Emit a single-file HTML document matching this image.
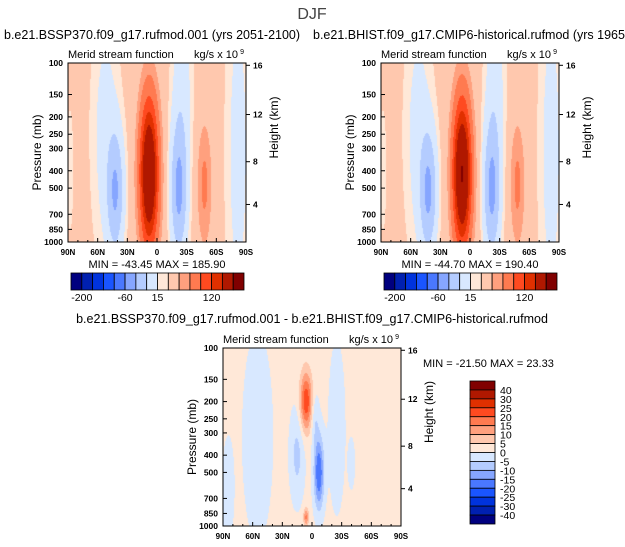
<!DOCTYPE html>
<html><head><meta charset="utf-8"><style>
body{margin:0;background:#fff;}
#root{position:relative;width:625px;height:547px;overflow:hidden;font-family:"Liberation Sans",sans-serif;}
svg text{font-family:"Liberation Sans",sans-serif;}
</style></head><body>
<div id="root">
<canvas id="c1" width="178" height="179" style="position:absolute;left:68px;top:63px"></canvas>
<canvas id="c2" width="178" height="179" style="position:absolute;left:381px;top:63px"></canvas>
<canvas id="c3" width="178" height="178" style="position:absolute;left:223px;top:348px"></canvas>
<svg id="ov" width="625" height="547" style="position:absolute;left:0;top:0"></svg>
</div>
<script>
const colors=["#00007f","#0020b0","#0033dd","#1a55ff","#4a78ff","#86a6ff","#b4ccff","#d8e8ff","#ffe8d8","#ffc8ae","#ffa07e","#ff7a50","#ff4a20","#e03000","#b01800","#800000"];
const levels1=[-200,-150,-100,-80,-60,-40,-20,-5,0,15,30,60,90,120,190];
const levels3=[-40,-30,-25,-20,-15,-10,-5,0,5,10,15,20,25,30,40];
const cbLabels1=["-200","-60","15","120"];
const cbLabelIdx1=[1,5,8,13];
const cbLabels3=["40","30","25","20","15","10","5","0","-5","-10","-15","-20","-25","-30","-40"];
const latTicks=[90,60,30,0,-30,-60,-90];
const latLabels=["90N","60N","30N","0","30S","60S","90S"];
const pTicks=[100,150,200,250,300,400,500,700,850,1000];
const hTicks=[16,12,8,4];
const hTickP=[103,194,356,617];
// blobs: lat, z(0 top..1 bottom, log p), amplitude, lat width, z width
const blobLat1=[8,-22,42,-48,52,-25,-82,88];
const blobZ1=[0.62,0.72,0.72,0.68,0.4,0.2,0.5,0.6];
const blobAmp1=[186,-46,-42,32,-12,-15,-12,-6];
const blobAmp2=[190,-46,-44,32,-12,-15,-12,-6];
const blobWl1=[9,8,8,7,14,10,12,4];
const blobWz1=[0.4,0.35,0.32,0.33,0.7,0.5,1.0,0.4];
const base1=3;
const blobLat3=[6,-7,15,6,55,-25,-40,85,-3];
const blobZ3=[0.3,0.7,0.6,0.95,0.5,0.45,0.65,0.8,0.4];
const blobAmp3=[23,-21.5,-8,15,-4,-4,-6,-4,-6];
const blobWl3=[6,5,7,2.5,16,9,3,6,4];
const blobWz3=[0.16,0.2,0.25,0.05,0.6,0.5,0.12,0.3,0.15];
const base3=1.5;

function field(lat,z,L,Z,A,WL,WZ,b){let v=b;for(let i=0;i<L.length;i++){const a=(lat-L[i])/WL[i],c=(z-Z[i])/WZ[i];v+=A[i]*Math.exp(-a*a-c*c);}return v;}
function cls(v,lv){let k=0;while(k<lv.length&&v>=lv[k])k++;return k;}
function paint(id,L,Z,A,WL,WZ,b,lv){const cv=document.getElementById(id),ctx=cv.getContext('2d');const w=cv.width,h=cv.height;
 for(let y=0;y<h;y++)for(let x=0;x<w;x++){const lat=90-180*(x+0.5)/w,z=(y+0.5)/h;ctx.fillStyle=colors[cls(field(lat,z,L,Z,A,WL,WZ,b),lv)];ctx.fillRect(x,y,1,1);}}
paint('c1',blobLat1,blobZ1,blobAmp1,blobWl1,blobWz1,base1,levels1);
paint('c2',blobLat1,blobZ1,blobAmp2,blobWl1,blobWz1,base1,levels1);
paint('c3',blobLat3,blobZ3,blobAmp3,blobWl3,blobWz3,base3,levels3);

const NS='http://www.w3.org/2000/svg',ov=document.getElementById('ov');
function el(t,a,txt){const e=document.createElementNS(NS,t);for(const k in a)e.setAttribute(k,a[k]);if(txt!==undefined)e.textContent=txt;ov.appendChild(e);return e;}
function T(x,y,s,size,anchor,name,extra){const e=el('text',Object.assign({x:x,y:y,'font-size':size,'text-anchor':anchor||'start',fill:'#000'},extra||{}),s);
 
 return e;}

T(312,19,"DJF",16,'middle','main-title',{fill:'#444'});
function panel(x0,y0,w,h,title,tx,mm,mmx,mmy,mmAnchor,pfx){
 const r=el('rect',{x:x0,y:y0,width:w,height:h,fill:'none',stroke:'#000','stroke-width':1});
 
 
 if(title)T(tx,39,title,12.5,'start',pfx+'-case-title');
 T(x0,y0-5,"Merid stream function",11,'start',pfx+'-variable-label');
 T(x0+w-8,y0-5,"kg/s x 10",11,'end',pfx+'-units-label');
 T(x0+w-2,y0-9,"9",7,'end',pfx+'-units-exponent');
 const py=p=>y0+h*Math.log10(p/100);
 const lx=lat=>x0+w*(90-lat)/180;
 pTicks.forEach(p=>{const y=py(p);el('line',{x1:x0,x2:x0+4,y1:y,y2:y,stroke:'#000'});
   T(x0-5,y+3,String(p),8.5,'end',pfx+'-pressure-tick-label',{'font-weight':'bold'});});
 hTicks.forEach((k,i)=>{const y=py(hTickP[i]);el('line',{x1:x0+w,x2:x0+w+4,y1:y,y2:y,stroke:'#000'});
   T(x0+w+7,y+3,String(k),8.5,'start',pfx+'-height-tick-label',{'font-weight':'bold'});});
 latTicks.forEach((t,i)=>{const x=lx(t);el('line',{x1:x,x2:x,y1:y0+h,y2:y0+h-4,stroke:'#000'});
   T(x,y0+h+13,latLabels[i],8,'middle',pfx+'-lat-tick-label',{'font-weight':'bold'});});
 for(let t=80;t>-90;t-=10){if(t%30){const x=lx(t);el('line',{x1:x,x2:x,y1:y0+h,y2:y0+h-2,stroke:'#000'});}}
 T(x0-31,y0+h/2,"Pressure (mb)",12,'middle',pfx+'-y-axis-title',{transform:`rotate(-90 ${x0-31} ${y0+h/2})`,dy:4});
 T(x0+w+28,y0+h/2-25,"Height (km)",12,'middle',pfx+'-y2-axis-title',{transform:`rotate(-90 ${x0+w+28} ${y0+h/2-25})`,dy:4});
 T(mmx,mmy,mm,11,mmAnchor,pfx+'-min-max-label',{'xml:space':'preserve'});
}
panel(68,63,178,179,"b.e21.BSSP370.f09_g17.rufmod.001 (yrs 2051-2100)",4,"MIN = -43.45   MAX = 185.90",157,268,'middle','future');
panel(381,63,178,179,"b.e21.BHIST.f09_g17.CMIP6-historical.rufmod (yrs 1965-2014)",313,"MIN = -44.70   MAX = 190.40",470,268,'middle','historical');
T(312,323,"b.e21.BSSP370.f09_g17.rufmod.001 - b.e21.BHIST.f09_g17.CMIP6-historical.rufmod",12.5,'middle','difference-title');
panel(223,348,178,178,null,0,"MIN = -21.50   MAX =  23.33",423,367,'start','difference');

function hbar(x0,y0,w,h,pfx){const bw=w/16;colors.forEach((c,i)=>{const r=el('rect',{x:x0+i*bw,y:y0,width:bw,height:h,fill:c,stroke:'#000','stroke-width':0.8});
 
 });
 cbLabels1.forEach((s,i)=>T(x0+cbLabelIdx1[i]*bw,y0+h+11,s,10.5,'middle',pfx+'-colorbar-label'));}
hbar(71,273,173,17,'future');
hbar(384,273,173,17,'historical');
const vx=470,vy=381,vw=25,vh=143,bh=vh/16;
colors.slice().reverse().forEach((c,i)=>{const r=el('rect',{x:vx,y:vy+i*bh,width:vw,height:bh,fill:c,stroke:'#000','stroke-width':0.8});
 
 });
cbLabels3.forEach((s,i)=>T(vx+30,vy+(i+1)*bh+4,s,10.5,'start','difference-colorbar-label'));
</script>
</body></html>
